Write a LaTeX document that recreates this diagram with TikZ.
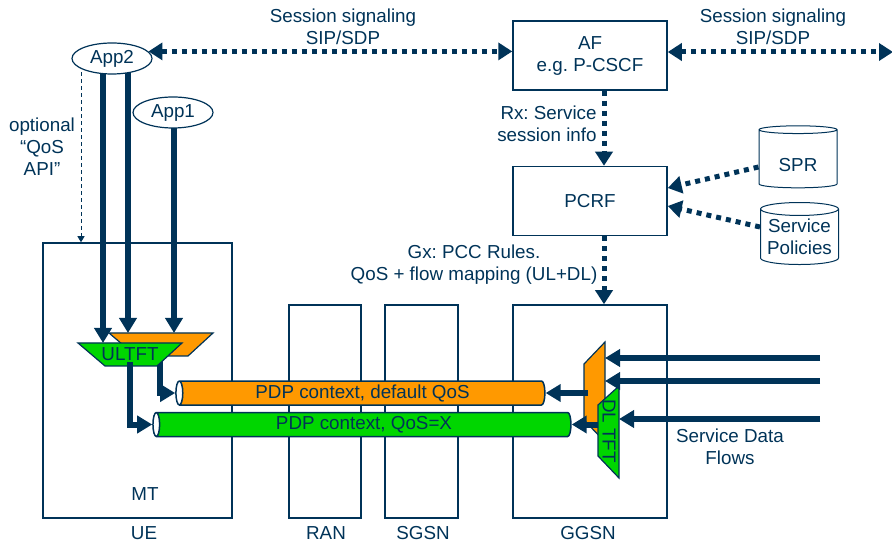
\documentclass[tikz,border=0pt]{standalone}
\usepackage{fontspec}
\setmainfont{Liberation Sans}
\usetikzlibrary{arrows.meta,shapes.geometric,backgrounds}
\definecolor{navy}{RGB}{0,51,88}
\definecolor{qosorange}{RGB}{255,153,0}
\definecolor{qosgreen}{RGB}{0,214,0}
\frenchspacing
\tikzset{
  lbl/.style={text=navy, font=\fontsize{9.4}{11}\selectfont, align=center, inner sep=0pt},
  box/.style={lbl, draw=navy, line width=0.75pt},
  app/.style={lbl, ellipse, draw=navy, fill=white, line width=0.6pt, minimum width=40pt, minimum height=15.5pt},
  db/.style={lbl, cylinder, shape border rotate=90, draw=navy, line width=0.5pt,
    cylinder uses custom fill, cylinder body fill=white, cylinder end fill=white, aspect=0.2},
  pipe/.style={lbl, cylinder, shape border rotate=180, draw=navy, line width=0.75pt,
    cylinder uses custom fill, cylinder body fill=#1, cylinder end fill=white, minimum width=12pt, aspect=0.4},
  tft/.style={draw=navy, line width=0.6pt},
  flow/.style={draw=navy, line width=3pt, -{Triangle[length=7.5pt,width=8.5pt]}},
  sig/.style={draw=navy, line width=2.5pt, dash pattern=on 2.5pt off 2.5pt},
  opt/.style={draw=navy, line width=0.5pt, dash pattern=on 2pt off 1.5pt, -{Triangle[length=3pt,width=3.5pt]}}
}
\begin{document}
\begin{tikzpicture}[x=0.5pt, y=-0.5pt]
  \useasboundingbox (0,0) rectangle (892,544);
  % network elements
  \node[box, minimum width=94.5pt, minimum height=137.5pt] (ue) at (137.5,380.5) {};
  \node[box, minimum width=36pt, minimum height=106.5pt] (ran) at (325,411.5) {};
  \node[box, minimum width=36.5pt, minimum height=106.5pt] (sgsn) at (421.5,411.5) {};
  \node[box, minimum width=77pt, minimum height=106.5pt] (ggsn) at (590,411.5) {};
  \node[box, minimum width=77pt, minimum height=34.5pt] (af) at (590,55.5) {AF\\e.g. P-CSCF};
  \node[box, minimum width=77pt, minimum height=34.5pt] (pcrf) at (590,201) {PCRF};
  \node[lbl] (mt) at (145,494) {MT};
  \node[lbl] (uename) at (144,533) {UE};
  \node[lbl] (ranname) at (326,533) {RAN};
  \node[lbl] (sgsnname) at (423,533) {SGSN};
  \node[lbl] (ggsnname) at (588,533) {GGSN};
  \node[db, minimum width=39pt, minimum height=31pt, text height=12.8pt] (spr) at (798,159) {SPR};
  \node[db, minimum width=39pt, minimum height=31pt] (policies) at (799.5,237) {Service\\Policies};
  \node[app] (app2) at (112,58.5) {App2};
  \node[app] (app1) at (173,112.5) {App1};
  % signaling
  \coordinate (sigend) at (893,52);
  \draw[sig, {Triangle[length=7pt,width=8.5pt]}-{Triangle[length=7pt,width=8.5pt]}] (app2.11) -- (app2.11 -| af.west);
  \draw[sig, {Triangle[length=7pt,width=8.5pt]}-{Triangle[length=7pt,width=8.5pt]}] (af.east |- sigend) -- (sigend);
  \draw[sig, -{Triangle[length=7pt,width=8.5pt]}] ([xshift=7pt]af.south) -- ([xshift=7pt]pcrf.north);
  \draw[sig, -{Triangle[length=7pt,width=8.5pt]}] ([xshift=7pt]pcrf.south) -- ([xshift=7pt]ggsn.north);
  \draw[sig, -{Triangle[length=7pt,width=8.5pt]}] ([yshift=-4pt]spr.west) -- ([yshift=6.5pt]pcrf.east);
  \draw[sig, -{Triangle[length=7pt,width=8.5pt]}] ([yshift=5pt]policies.west) -- ([yshift=-2.5pt]pcrf.east);
  \node[lbl] (sigleft) at (343,27) {Session signaling\\SIP/SDP};
  \node[lbl] (sigright) at (773,27) {Session signaling\\SIP/SDP};
  \node[lbl, align=right, anchor=east] (rx) at (597,123.5) {Rx: Service\\session info};
  \node[lbl] (gx) at (474,264.5) {Gx: PCC Rules.\\QoS + flow mapping (UL+DL)};
  \node[lbl] (qosapi) at (42,147) {optional\\``QoS\\API''};
  % bearers
  \node[pipe=qosorange, minimum height=184.5pt] (pdpdef) at (362.5,393) {PDP context, default QoS};
  \node[pipe=qosgreen, minimum height=209pt] (pdpx) at (364,424.5) {PDP context, QoS=X};
  % uplink TFT
  \coordinate (ulotop) at (109,333);
  \coordinate (ulgtop) at (78,343);
  \filldraw[tft, fill=qosorange] (ulotop) -- (213,333) -- (188,356) -- (136,356) -- cycle;
  \draw[flow] (160,352) |- (pdpdef.west);
  \filldraw[tft, fill=qosgreen] (ulgtop) -- (182,343) -- (157,366) -- (105,366) -- cycle;
  \draw[flow] (130,362) |- (pdpx.west);
  \node[lbl] (ultft) at (130,354.5) {ULTFT};
  % downlink TFT
  \coordinate (dlotop) at (605,342);
  \coordinate (dlgtop) at (619,386);
  \filldraw[tft, fill=qosorange] (584,364) -- (dlotop) -- (605,442) -- (584,420) -- cycle;
  \draw[flow] (pdpdef.east -| 588,0) -- (pdpdef.east);
  \draw[flow] (pdpx.east -| 602,0) -- (pdpx.east);
  \filldraw[tft, fill=qosgreen] (598,405) -- (dlgtop) -- (619,478) -- (598,456) -- cycle;
  \node[lbl, rotate=-90] (dltft) at (609,431) {DL TFT};
  \coordinate (sdf1) at (820,358);
  \coordinate (sdf2) at (820,381);
  \coordinate (sdf3) at (820,419);
  \draw[flow] (sdf1) -- (sdf1 -| dlotop);
  \draw[flow] (sdf2) -- (sdf2 -| dlotop);
  \draw[flow] (sdf3) -- (sdf3 -| dlgtop);
  \node[lbl] (sdf) at (730,447) {Service Data\\Flows};
  % application flows
  \begin{scope}[on background layer]
    \draw[flow] ([xshift=-4.5pt]app2.center) -- ([xshift=-4.5pt]app2.center |- ulgtop);
    \draw[flow] ([xshift=8pt]app2.center) -- ([xshift=8pt]app2.center |- ulotop);
    \draw[flow] ([xshift=0.5pt]app1.center) -- ([xshift=0.5pt]app1.center |- ulotop);
    \draw[opt] ([xshift=-15.5pt]app2.center) -- ([xshift=-15.5pt]app2.center |- ue.north);
  \end{scope}
\end{tikzpicture}
\end{document}
